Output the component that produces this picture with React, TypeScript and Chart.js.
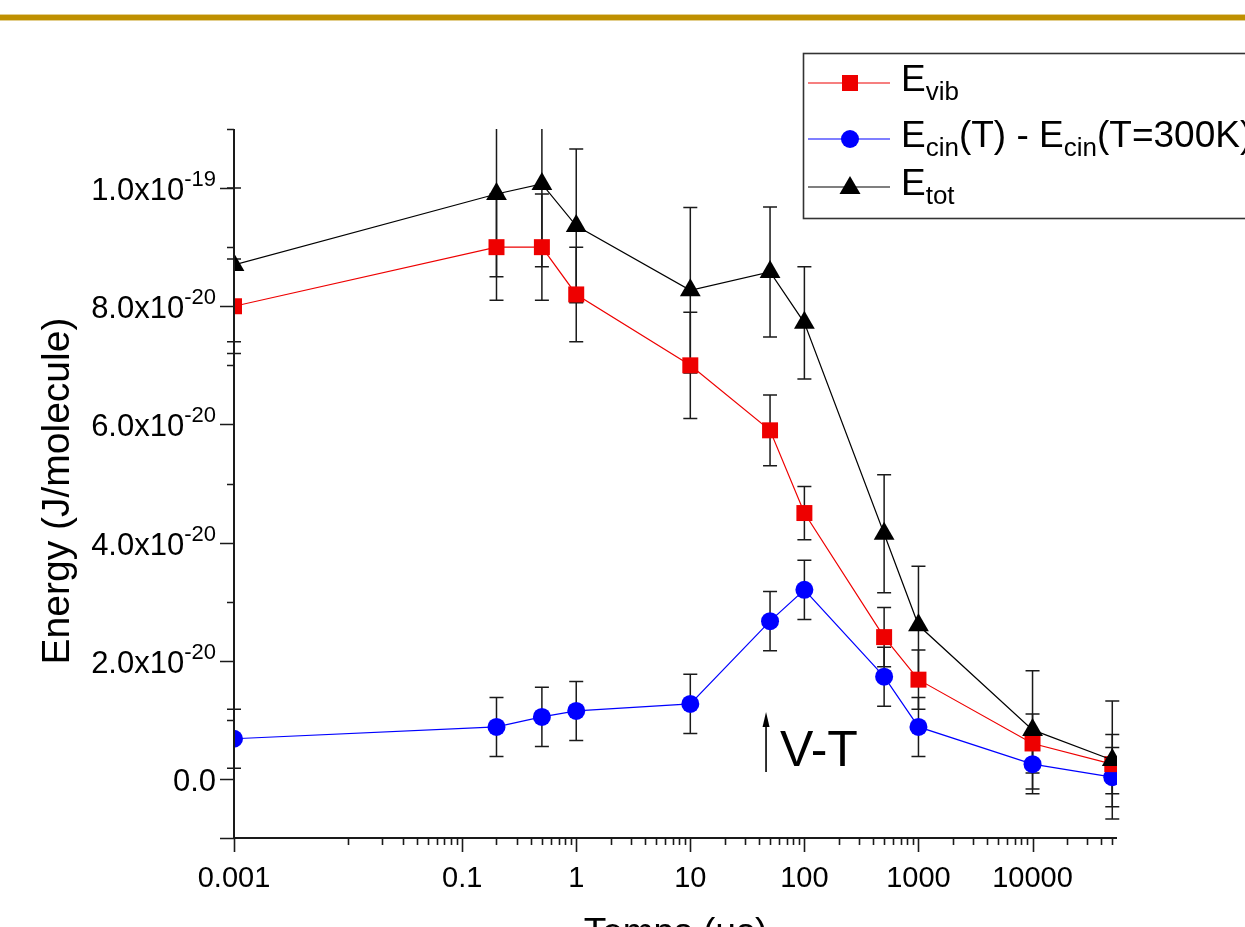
import React, { useEffect, useRef } from 'react';
import { Chart, registerables } from 'chart.js';

Chart.register(...registerables);

// Delay after excitation (µs)
const timesUs = [0.001, 0.2, 0.5, 1, 10, 50, 100, 500, 1000, 10000, 50000];

// Vibrational energy and its uncertainty (J/molecule)
const eVib = [8.0e-20, 9.0e-20, 9.0e-20, 8.2e-20, 7.0e-20, 5.9e-20, 4.5e-20, 2.4e-20, 1.68e-20, 0.6e-20, 0.25e-20];
const eVibErr = [0.8e-20, 0.9e-20, 0.9e-20, 0.8e-20, 0.9e-20, 0.6e-20, 0.45e-20, 0.5e-20, 0.5e-20, 0.5e-20, 0.5e-20];

// Kinetic energy above the 300 K baseline
const eCin = [0.68e-20, 0.88e-20, 1.05e-20, 1.15e-20, 1.27e-20, 2.67e-20, 3.2e-20, 1.73e-20, 0.88e-20, 0.25e-20, 0.03e-20];
const eCinErr = [0.5e-20, 0.5e-20, 0.5e-20, 0.5e-20, 0.5e-20, 0.5e-20, 0.5e-20, 0.5e-20, 0.5e-20, 0.5e-20, 0.5e-20];

// Total energy
const eTot = [8.7e-20, 9.9e-20, 10.07e-20, 9.36e-20, 8.27e-20, 8.58e-20, 7.72e-20, 4.15e-20, 2.6e-20, 0.83e-20, 0.32e-20];
const eTotErr = [1.3e-20, 1.4e-20, 1.4e-20, 1.3e-20, 1.4e-20, 1.1e-20, 0.95e-20, 1.0e-20, 1.0e-20, 1.0e-20, 1.0e-20];

// Axis ticks
const xMajorTicks = [0.001, 0.1, 1, 10, 100, 1000, 10000];
const xMajorLabels = ['0.001', '0.1', '1', '10', '100', '1000', '10000'];
const xMinorTicks = [
  0.01, 0.02, 0.03, 0.04, 0.05, 0.06, 0.07, 0.08, 0.09,
  0.2, 0.3, 0.4, 0.5, 0.6, 0.7, 0.8, 0.9,
  2, 3, 4, 5, 6, 7, 8, 9,
  20, 30, 40, 50, 60, 70, 80, 90,
  200, 300, 400, 500, 600, 700, 800, 900,
  2000, 3000, 4000, 5000, 6000, 7000, 8000, 9000,
  20000, 30000, 40000, 50000,
];
const yMajorTicks = [-1e-20, 0, 2e-20, 4e-20, 6e-20, 8e-20, 1e-19];
const yLabelValues = [0, 2e-20, 4e-20, 6e-20, 8e-20, 1e-19];
const yLabelMantissa = ['0.0', '2.0x10', '4.0x10', '6.0x10', '8.0x10', '1.0x10'];
const yLabelExponent = ['', '-20', '-20', '-20', '-20', '-19'];
const yMinorTicks = [1e-20, 3e-20, 5e-20, 7e-20, 9e-20, 1.1e-19];

const X_MIN = 0.001;
const X_MAX = 55000;
const Y_MIN = -1e-20;
const Y_MAX = 1.1e-19;

const RED = '#ee0000';
const BLUE = '#0000ff';
const BLACK = '#000000';
const AXIS = '#1a1a1a';
const FAMILY = '"Liberation Sans", Arial, Helvetica, sans-serif';

type Part = { t: string; size: number; dy: number };

const font = (px: number) => `${px}px ${FAMILY}`;

function drawParts(ctx: CanvasRenderingContext2D, parts: Part[], x: number, y: number, align: 'left' | 'right' | 'center') {
  let total = 0;
  for (const p of parts) {
    ctx.font = font(p.size);
    total += ctx.measureText(p.t).width;
  }
  let cx = align === 'left' ? x : align === 'right' ? x - total : x - total / 2;
  ctx.textAlign = 'left';
  ctx.textBaseline = 'alphabetic';
  for (const p of parts) {
    ctx.font = font(p.size);
    ctx.fillText(p.t, cx, y + p.dy);
    cx += ctx.measureText(p.t).width;
  }
}

function drawMarker(ctx: CanvasRenderingContext2D, kind: string, x: number, y: number, color: string) {
  ctx.fillStyle = color;
  ctx.beginPath();
  if (kind === 'rect') {
    ctx.rect(x - 8, y - 8, 16, 16);
  } else if (kind === 'circle') {
    ctx.arc(x, y, 9, 0, Math.PI * 2);
  } else {
    ctx.moveTo(x, y - 11);
    ctx.lineTo(x + 10.5, y + 7);
    ctx.lineTo(x - 10.5, y + 7);
    ctx.closePath();
  }
  ctx.fill();
}

const errorSets = [
  { values: eVib, errors: eVibErr },
  { values: eCin, errors: eCinErr },
  { values: eTot, errors: eTotErr },
];

const legendRows = [
  { color: RED, marker: 'rect', parts: [{ t: 'E', size: 37, dy: 0 }, { t: 'vib', size: 26, dy: 9 }] },
  {
    color: BLUE,
    marker: 'circle',
    parts: [
      { t: 'E', size: 37, dy: 0 },
      { t: 'cin', size: 26, dy: 9 },
      { t: '(T) - E', size: 37, dy: 0 },
      { t: 'cin', size: 26, dy: 9 },
      { t: '(T=300K)', size: 37, dy: 0 },
    ],
  },
  { color: BLACK, marker: 'triangle', parts: [{ t: 'E', size: 37, dy: 0 }, { t: 'tot', size: 26, dy: 9 }] },
];

const decorPlugin = {
  id: 'energyDecor',
  beforeDraw(chart: any) {
    const { ctx, width } = chart;
    ctx.save();
    ctx.fillStyle = '#ffffff';
    ctx.fillRect(0, 0, width, chart.height);
    // header rule
    ctx.fillStyle = '#e3cf8f';
    ctx.fillRect(0, 14, width, 7);
    ctx.fillStyle = '#bf9000';
    ctx.fillRect(0, 15, width, 5);
    ctx.restore();
  },
  beforeDatasetsDraw(chart: any) {
    const { ctx, chartArea } = chart;
    const xs = chart.scales.x;
    const ys = chart.scales.y;
    ctx.save();
    ctx.beginPath();
    ctx.rect(chartArea.left - 20, chartArea.top, chartArea.right - chartArea.left + 40, chartArea.bottom - chartArea.top);
    ctx.clip();
    ctx.strokeStyle = '#1a1a1a';
    ctx.lineWidth = 1.5;
    for (const set of errorSets) {
      timesUs.forEach((t, i) => {
        const px = xs.getPixelForValue(t);
        const top = ys.getPixelForValue(set.values[i] + set.errors[i]);
        const bot = ys.getPixelForValue(set.values[i] - set.errors[i]);
        ctx.beginPath();
        ctx.moveTo(px, top);
        ctx.lineTo(px, bot);
        ctx.moveTo(px - 7, top);
        ctx.lineTo(px + 7, top);
        ctx.moveTo(px - 7, bot);
        ctx.lineTo(px + 7, bot);
        ctx.stroke();
      });
    }
    ctx.restore();
  },
  afterDraw(chart: any) {
    const { ctx, chartArea } = chart;
    const xs = chart.scales.x;
    const ys = chart.scales.y;
    const { left, right, top, bottom } = chartArea;
    ctx.save();

    // axes
    ctx.strokeStyle = AXIS;
    ctx.lineWidth = 2;
    ctx.beginPath();
    ctx.moveTo(left, top);
    ctx.lineTo(left, bottom);
    ctx.lineTo(right, bottom);
    ctx.stroke();

    // y ticks
    ctx.lineWidth = 1.6;
    ctx.beginPath();
    for (const v of yMajorTicks) {
      const py = Math.round(ys.getPixelForValue(v)) + 0.5;
      ctx.moveTo(left, py);
      ctx.lineTo(left - 14, py);
    }
    for (const v of yMinorTicks) {
      const py = Math.round(ys.getPixelForValue(v)) + 0.5;
      ctx.moveTo(left, py);
      ctx.lineTo(left - 7, py);
    }
    // x ticks
    for (const v of xMajorTicks) {
      const px = Math.round(xs.getPixelForValue(v)) + 0.5;
      ctx.moveTo(px, bottom);
      ctx.lineTo(px, bottom + 14);
    }
    for (const v of xMinorTicks) {
      const px = Math.round(xs.getPixelForValue(v)) + 0.5;
      ctx.moveTo(px, bottom);
      ctx.lineTo(px, bottom + 7);
    }
    ctx.stroke();

    // tick labels
    ctx.fillStyle = '#000';
    yLabelValues.forEach((v, i) => {
      const py = ys.getPixelForValue(v);
      const parts: Part[] = [{ t: yLabelMantissa[i], size: 31, dy: 0 }];
      if (yLabelExponent[i]) parts.push({ t: yLabelExponent[i], size: 22, dy: -14 });
      drawParts(ctx, parts, left - 18, py + 12, 'right');
    });
    xMajorTicks.forEach((v, i) => {
      const px = xs.getPixelForValue(v);
      drawParts(ctx, [{ t: xMajorLabels[i], size: 29, dy: 0 }], px, 887, 'center');
    });

    // axis titles
    ctx.save();
    ctx.translate(69, 491);
    ctx.rotate(-Math.PI / 2);
    drawParts(ctx, [{ t: 'Energy (J/molecule)', size: 39, dy: 0 }], 0, 0, 'center');
    ctx.restore();
    drawParts(ctx, [{ t: 'Temps (µs)', size: 37, dy: 0 }], (left + right) / 2, 944, 'center');

    // V-T annotation
    const ax = xs.getPixelForValue(50) - 4;
    ctx.strokeStyle = '#000';
    ctx.lineWidth = 1.6;
    ctx.beginPath();
    ctx.moveTo(ax, 772);
    ctx.lineTo(ax, 718);
    ctx.stroke();
    ctx.fillStyle = '#000';
    ctx.beginPath();
    ctx.moveTo(ax, 712);
    ctx.lineTo(ax + 3.5, 727);
    ctx.lineTo(ax - 3.5, 727);
    ctx.closePath();
    ctx.fill();
    drawParts(ctx, [{ t: 'V-T', size: 50, dy: 0 }], ax + 14, 766, 'left');

    // legend
    ctx.fillStyle = '#ffffff';
    ctx.fillRect(803, 53, 500, 165);
    ctx.strokeStyle = '#333';
    ctx.lineWidth = 1.6;
    ctx.strokeRect(803.5, 53.5, 500, 165);
    const rowY = [83, 139, 187];
    legendRows.forEach((row, i) => {
      const y = rowY[i];
      ctx.strokeStyle = row.color;
      ctx.lineWidth = 1.2;
      ctx.beginPath();
      ctx.moveTo(808, y);
      ctx.lineTo(890, y);
      ctx.stroke();
      drawMarker(ctx, row.marker, 850, y, row.color);
      ctx.fillStyle = '#000';
      drawParts(ctx, row.parts, 901, y + 8, 'left');
    });

    ctx.restore();
  },
};

export default function App() {
  const canvasRef = useRef<HTMLCanvasElement | null>(null);

  useEffect(() => {
    const canvas = canvasRef.current;
    if (!canvas) return;
    const toPoints = (ys: number[]) => timesUs.map((t, i) => ({ x: t, y: ys[i] }));
    const chart = new Chart(canvas, {
      type: 'line',
      data: {
        datasets: [
          {
            label: 'Etot',
            data: toPoints(eTot),
            borderColor: BLACK,
            backgroundColor: BLACK,
            borderWidth: 1.2,
            pointStyle: 'triangle',
            pointRadius: 12,
            pointBorderWidth: 0,
            pointBackgroundColor: BLACK,
            order: 0,
          },
          {
            label: 'Evib',
            data: toPoints(eVib),
            borderColor: RED,
            backgroundColor: RED,
            borderWidth: 1.2,
            pointStyle: 'rect',
            pointRadius: 11.3,
            pointBorderWidth: 0,
            pointBackgroundColor: RED,
            order: 1,
          },
          {
            label: 'Ecin',
            data: toPoints(eCin),
            borderColor: BLUE,
            backgroundColor: BLUE,
            borderWidth: 1.2,
            pointStyle: 'circle',
            pointRadius: 9,
            pointBorderWidth: 0,
            pointBackgroundColor: BLUE,
            order: 2,
          },
        ],
      },
      options: {
        animation: false,
        responsive: true,
        maintainAspectRatio: false,
        layout: { padding: { left: 0, top: 129, right: 128, bottom: 0 } },
        plugins: {
          legend: { display: false },
          tooltip: { enabled: false },
        },
        scales: {
          x: {
            type: 'logarithmic',
            min: X_MIN,
            max: X_MAX,
            grid: { display: false },
            border: { display: false },
            ticks: { display: false },
            afterFit: (s: any) => {
              s.height = 89;
            },
          },
          y: {
            type: 'linear',
            min: Y_MIN,
            max: Y_MAX,
            grid: { display: false },
            border: { display: false },
            ticks: { display: false },
            afterFit: (s: any) => {
              s.width = 234;
            },
          },
        },
      },
      plugins: [decorPlugin],
    });
    return () => chart.destroy();
  }, []);

  return (
    <div style={{ position: 'fixed', left: 0, top: 0, width: 1245, height: 927, background: '#fff', overflow: 'hidden' }}>
      <canvas ref={canvasRef} />
    </div>
  );
}
